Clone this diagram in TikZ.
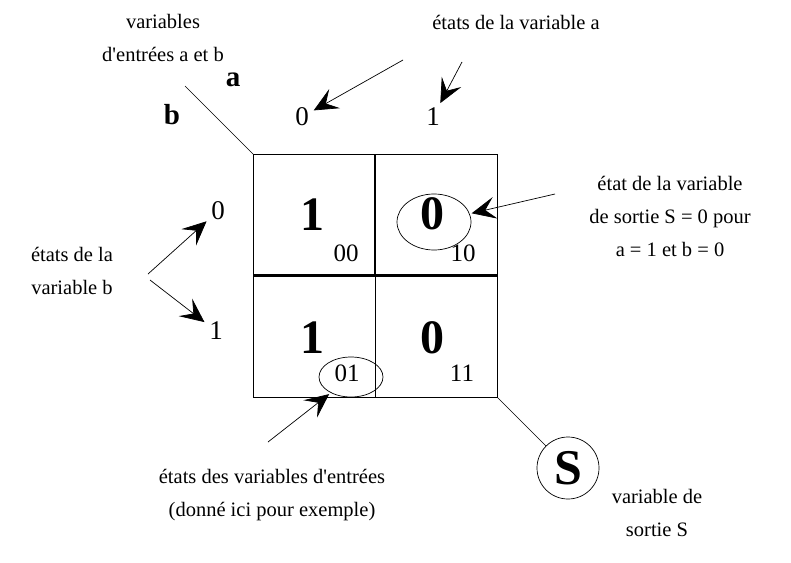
\documentclass[tikz,border=0pt]{standalone}
\usepackage{fontspec}
\setmainfont{Liberation Serif}
\usetikzlibrary{arrows.meta,calc,shapes.geometric}

\tikzset{
  txt/.style={font=\fontsize{20.5}{33}\selectfont, align=center, inner sep=0pt},
  big/.style={font=\fontsize{48}{48}\selectfont\bfseries, inner sep=0pt},
  idx/.style={font=\fontsize{25}{25}\selectfont, inner sep=0pt},
  var/.style={font=\fontsize{29}{29}\selectfont\bfseries, inner sep=0pt},
  etat/.style={font=\fontsize{27}{27}\selectfont, inner sep=3pt},
  lead/.style={line width=0.7pt},
  fleche/.style={lead, -{Stealth[length=24pt,width=22pt,inset=10pt]}, shorten >=2pt},
}

\begin{document}
\begin{tikzpicture}[x=1pt, y=-1pt]
        \useasboundingbox (0,0) rectangle (791,562);

        % Grid corners
        \coordinate (NW) at (253,154);
        \coordinate (NE) at (497,154);
        \coordinate (SW) at (253,397);
        \coordinate (SE) at (497,397);
        \coordinate (N) at ($(NW)!0.5!(NE)$);
        \coordinate (W) at ($(NW)!0.5!(SW)$);
        \coordinate (E) at ($(NE)!0.5!(SE)$);
        \coordinate (S) at ($(SW)!0.5!(SE)$);
        \coordinate (M) at ($(W)!0.5!(E)$);

        % Karnaugh table
        \draw[line width=1pt] (NW) rectangle (SE);
        \draw[line width=2.4pt] (N) -- (M);
        \draw[line width=1pt] (M) -- (S);
        \draw[line width=2.4pt] (W) -- (E);

        % Output values
        \node[big] (v00) at (312,215) {1};
        \node[big] (v10) at (432,214) {0};
        \node[big] (v01) at (312,338) {1};
        \node[big] (v11) at (432,338) {0};

        % Cell codes
        \node[idx] (c00) at (346,253) {00};
        \node[idx] (c10) at (463,253) {10};
        \node[idx] (c01) at (347,373) {01};
        \node[idx] (c11) at (462,373) {11};

        % Highlights
        \node[ellipse, draw, lead, minimum width=74pt, minimum height=56pt] (e10) at (434,222) {};
        \node[ellipse, draw, lead, minimum width=64pt, minimum height=40pt] (e01) at (351,377) {};

        % Input variables
        \node[var] (va) at (233,80) {a};
        \node[var] (vb) at (172,115) {b};
        \node[etat] (a0) at (302,117) {0};
        \node[etat] (a1) at (433,117) {1};
        \node[etat] (b0) at (218,211) {0};
        \node[etat] (b1) at (216,331) {1};

        % Output variable
        \node[circle, draw, lead, minimum size=62pt, inner sep=0pt, font=\fontsize{50}{50}\selectfont\bfseries] (sv) at (568,468) {S};

        % Texts
        \node[txt] (tvar) at (163,38) {variables\\d\textquotesingle entrées a et b};
        \node[txt] (ta) at (516,22) {états de la variable a};
        \node[txt] (tb) at (72,271) {états de la\\variable b};
        \node[txt] (tsort) at (670,216) {état de la variable\\de sortie S = 0 pour\\a = 1 et b = 0};
        \node[txt] (tin) at (272,495) {états des variables d\textquotesingle entrées\\(donné ici pour exemple)};
        \node[txt] (tsv) at (657,513) {variable de\\sortie S};

        % Connectors
        \coordinate (p1) at (185,86);
        \coordinate (p2) at (403,60);
        \coordinate (p3) at (462,62);
        \coordinate (p4) at (148,274);
        \coordinate (p5) at (150,280);
        \coordinate (p6) at (555,194);
        \coordinate (p7) at (268,442);

        \draw[lead] (p1) -- (NW);
        \draw[lead] (SE) -- (sv);
        \draw[fleche] (p2) -- (a0);
        \draw[fleche] (p3) -- (a1);
        \draw[fleche] (p4) -- (b0);
        \draw[fleche] (p5) -- (b1);
        \draw[fleche] (p6) -- (e10);
        \draw[fleche] (p7) -- (e01);

\end{tikzpicture}
\end{document}
